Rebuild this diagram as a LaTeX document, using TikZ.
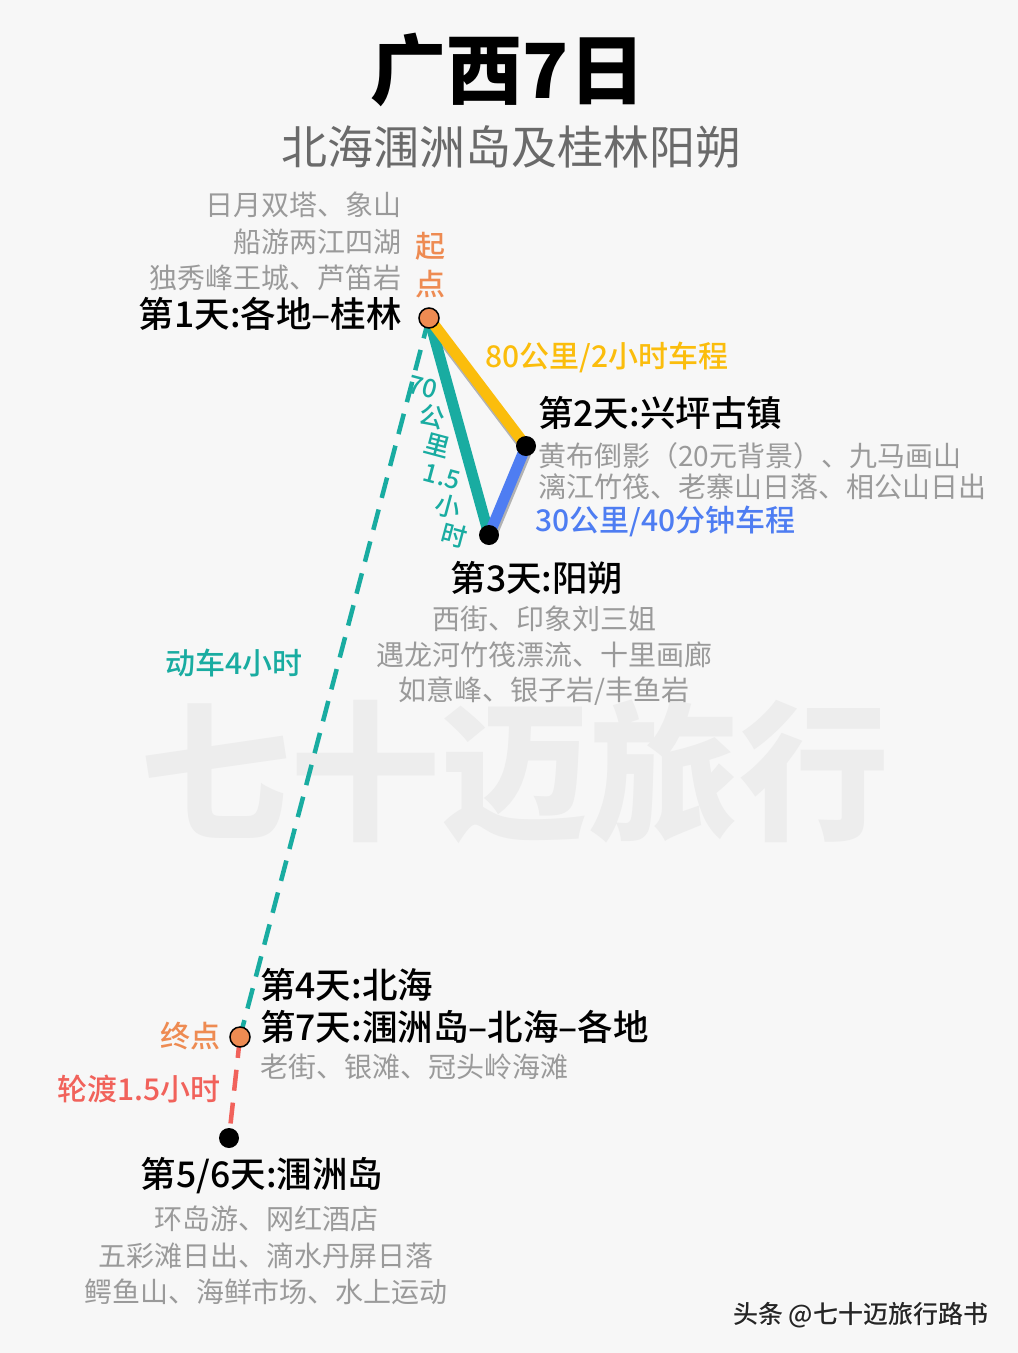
\documentclass[tikz,border=0pt]{standalone}
\usepackage{fontspec}
\newfontfamily\cjk{Noto Sans CJK SC}
\newfontfamily\cjkmed{Noto Sans CJK SC Medium}
\usetikzlibrary{positioning}

\definecolor{bgcol}{HTML}{F7F7F7}
\definecolor{greytxt}{HTML}{9A9A9A}
\definecolor{subgrey}{HTML}{6A6A6A}
\definecolor{routeyellow}{HTML}{FBBD0C}
\definecolor{routeteal}{HTML}{19ACA1}
\definecolor{routeblue}{HTML}{4E7DF2}
\definecolor{routered}{HTML}{F1625B}
\definecolor{markorange}{HTML}{EE8B52}
\definecolor{wmgrey}{HTML}{EDEDED}

\tikzset{
    daytxt/.style={font=\cjkmed\fontsize{35.5}{35.5}\selectfont, inner sep=0pt},
    graytxt/.style={font=\cjk\fontsize{28}{28}\selectfont, text=greytxt, inner sep=0pt},
    routetxt/.style={font=\cjkmed\fontsize{30}{30}\selectfont, inner sep=0pt},
    stopdot/.style={circle, fill=black, minimum size=20pt, inner sep=0pt},
    enddot/.style={circle, draw=black, line width=1.5pt, fill=markorange, minimum size=20pt, inner sep=0pt},
    solidroute/.style={line width=11pt},
    shadowroute/.style={line width=11pt, draw=gray!60, transform canvas={shift={(1pt,-4pt)}}},
    dashroute/.style={line width=4.5pt, dash pattern=on 21pt off 12pt}
}

\begin{document}
\begin{tikzpicture}[x=1pt, y=-1pt]
        % Page
        \fill[bgcol] (0,0) rectangle (1018,1353);
        \useasboundingbox (0,0) rectangle (1018,1353);

        % Watermark
        \node[font=\cjk\bfseries\fontsize{150}{150}\selectfont, text=wmgrey, inner sep=0pt] (wm) at (515,772) {七十迈旅行};

        % Title
        \node[font=\cjk\bfseries\fontsize{76}{76}\selectfont, inner sep=0pt] (title) at (508,70) {广西7日};
        \node[font=\cjk\fontsize{46}{46}\selectfont, text=subgrey, inner sep=0pt] (subtitle) at (511,147) {北海涠洲岛及桂林阳朔};

        % Stops
        \coordinate (guilin) at (429,318);
        \coordinate (xingping) at (526,446);
        \coordinate (yangshuo) at (489,535);
        \coordinate (beihai) at (240,1037);
        \coordinate (weizhou) at (229,1138);

        % Dashed routes
        \draw[dashroute, routeteal] (guilin) -- (beihai);
        \draw[dashroute, routered] (beihai) -- (weizhou);

        % Road routes
        \draw[shadowroute] (guilin) -- (xingping);
        \draw[shadowroute] (xingping) -- (yangshuo);
        \draw[solidroute, routeteal] (guilin) -- (yangshuo);
        \draw[solidroute, routeyellow] (guilin) -- (xingping);
        \draw[solidroute, routeblue] (xingping) -- (yangshuo);

        % Dots
        \node[enddot] (start) at (guilin) {};
        \node[stopdot] (d2dot) at (xingping) {};
        \node[stopdot] (d3dot) at (yangshuo) {};
        \node[enddot] (finish) at (beihai) {};
        \node[stopdot] (d5dot) at (weizhou) {};

        % Day 1
        \node[routetxt, text=markorange] (qi) at (430,246) {起};
        \node[routetxt, text=markorange] (dian) at (430,284) {点};
        \node[daytxt, anchor=east] (day1) at (402,314) {第1天:各地–桂林};
        \foreach \txt [count=\i] in {日月双塔、象山, 船游两江四湖, 独秀峰王城、芦笛岩} {
            \node[graytxt, anchor=east] (d1-\i) at (402,168.5+36.5*\i) {\txt};
        }

        % Day 2
        \node[routetxt, text=routeyellow, anchor=west] (road1) at (485,357) {80公里/2小时车程};
        \node[daytxt, anchor=west] (day2) at (538,413) {第2天:兴坪古镇};
        \node[graytxt, anchor=west] (d2-1) at (538,456) {黄布倒影（20元背景）、九马画山};
        \node[graytxt, anchor=west] (d2-2) at (538,487) {漓江竹筏、老寨山日落、相公山日出};
        \node[routetxt, text=routeblue, anchor=west] (road2) at (535,521) {30公里/40分钟车程};

        % Teal road label
        \begin{scope}[every node/.style={font=\cjkmed\fontsize{25.5}{25.5}\selectfont, text=routeteal, inner sep=0pt, rotate=-15}]
            \node (r3a) at (423,387) {70};
            \node (r3b) at (432,417) {公};
            \node (r3c) at (437,446) {里};
            \node (r3d) at (442,477) {1.5};
            \node (r3e) at (448,507) {小};
            \node (r3f) at (454,535) {时};
        \end{scope}

        % Day 3
        \node[daytxt] (day3) at (537,578) {第3天:阳朔};
        \foreach \txt [count=\i] in {西街、印象刘三姐, 遇龙河竹筏漂流、十里画廊, 如意峰、银子岩/丰鱼岩} {
            \node[graytxt] (d3-\i) at (544,583+36*\i) {\txt};
        }

        % Train
        \node[routetxt, text=routeteal, anchor=west] (train) at (165,663) {动车4小时};

        % Day 4 and 7
        \node[daytxt, anchor=west] (day4) at (260,985) {第4天:北海};
        \node[daytxt, anchor=west] (day7) at (260,1027) {第7天:涠洲岛–北海–各地};
        \node[graytxt, anchor=west] (d4-1) at (260,1067) {老街、银滩、冠头岭海滩};
        \node[routetxt, text=markorange, anchor=east] (zhong) at (221,1036) {终点};

        % Ferry
        \node[routetxt, text=routered, anchor=east] (ferry) at (221,1089) {轮渡1.5小时};

        % Day 5/6
        \node[daytxt] (day5) at (262,1176) {第5/6天:涠洲岛};
        \foreach \txt [count=\i] in {环岛游、网红酒店, 五彩滩日出、滴水丹屏日落, 鳄鱼山、海鲜市场、水上运动} {
            \node[graytxt] (d5-\i) at (266,1182.5+36.5*\i) {\txt};
        }

        % Footer
        \node[font=\cjkmed\fontsize{25}{25}\selectfont, text=white, anchor=west, inner sep=0pt] (footshade) at (734.5,1316.5) {头条 @七十迈旅行路书};
        \node[font=\cjkmed\fontsize{25}{25}\selectfont, text=black!85, anchor=west, inner sep=0pt] (footer) at (733,1315) {头条 @七十迈旅行路书};
    \end{tikzpicture}
\end{document}
